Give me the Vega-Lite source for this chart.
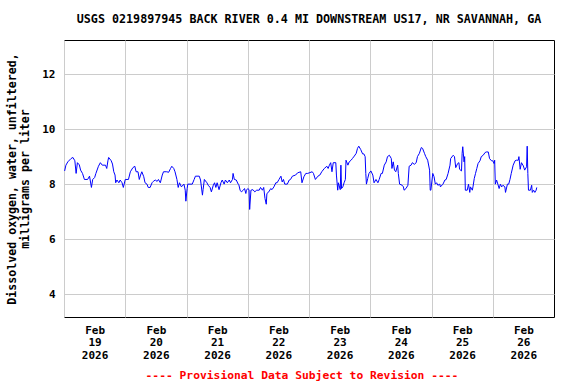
{
  "$schema": "https://vega.github.io/schema/vega-lite/v6.json",
  "autosize": "none",
  "width": 490,
  "height": 277,
  "padding": {"left": 64, "top": 40, "right": 22, "bottom": 67},
  "background": "white",
  "config": {
    "view": {"stroke": "#000000", "strokeWidth": 1},
    "font": "DejaVu Sans Mono",
    "axis": {"domain": false, "ticks": false, "gridColor": "#cccccc", "gridWidth": 1, "labelFont": "DejaVu Sans Mono", "labelFontWeight": "bold", "labelColor": "#000", "titleFont": "DejaVu Sans Mono", "titleFontWeight": "bold"}
  },
  "title": {"text": "USGS 0219897945 BACK RIVER 0.4 MI DOWNSTREAM US17, NR SAVANNAH, GA", "font": "DejaVu Sans Mono", "fontSize": 11.7, "fontWeight": "bold", "anchor": "middle", "offset": 14, "color": "#000"},
  "data": {"values": [
    {"t": "2026-02-19 00:15", "v": 8.48}, {"t": "2026-02-19 00:45", "v": 8.69}, {"t": "2026-02-19 01:30", "v": 8.81}, {"t": "2026-02-19 02:45", "v": 8.93}, {"t": "2026-02-19 03:30", "v": 8.97}, {"t": "2026-02-19 04:15", "v": 8.85}, {"t": "2026-02-19 04:45", "v": 8.39}, {"t": "2026-02-19 05:15", "v": 8.78}, {"t": "2026-02-19 06:00", "v": 8.7}, {"t": "2026-02-19 06:30", "v": 8.51}, {"t": "2026-02-19 07:15", "v": 8.39}, {"t": "2026-02-19 08:00", "v": 8.17}, {"t": "2026-02-19 09:15", "v": 8.17}, {"t": "2026-02-19 10:00", "v": 8.29}, {"t": "2026-02-19 10:45", "v": 7.88}, {"t": "2026-02-19 11:15", "v": 8.17}, {"t": "2026-02-19 12:00", "v": 8.24}, {"t": "2026-02-19 12:30", "v": 8.39}, {"t": "2026-02-19 13:30", "v": 8.65}, {"t": "2026-02-19 14:15", "v": 8.78}, {"t": "2026-02-19 15:00", "v": 8.69}, {"t": "2026-02-19 16:15", "v": 8.69}, {"t": "2026-02-19 16:45", "v": 8.57}, {"t": "2026-02-19 17:15", "v": 8.87}, {"t": "2026-02-19 17:30", "v": 8.97}, {"t": "2026-02-19 18:30", "v": 8.85}, {"t": "2026-02-19 19:00", "v": 8.73}, {"t": "2026-02-19 19:30", "v": 8.45}, {"t": "2026-02-19 20:00", "v": 8.33}, {"t": "2026-02-19 20:15", "v": 8.05}, {"t": "2026-02-19 20:45", "v": 8.15}, {"t": "2026-02-19 21:30", "v": 8.05}, {"t": "2026-02-19 22:00", "v": 8.15}, {"t": "2026-02-19 22:45", "v": 8.05}, {"t": "2026-02-19 23:15", "v": 7.88}, {"t": "2026-02-20 00:00", "v": 8.17},
    {"t": "2026-02-20 01:15", "v": 8.17}, {"t": "2026-02-20 02:00", "v": 8.45}, {"t": "2026-02-20 03:00", "v": 8.6}, {"t": "2026-02-20 03:45", "v": 8.65}, {"t": "2026-02-20 04:15", "v": 8.45}, {"t": "2026-02-20 05:00", "v": 8.45}, {"t": "2026-02-20 05:30", "v": 8.17}, {"t": "2026-02-20 06:00", "v": 8.33}, {"t": "2026-02-20 06:30", "v": 8.45}, {"t": "2026-02-20 07:15", "v": 8.27}, {"t": "2026-02-20 07:45", "v": 8.05}, {"t": "2026-02-20 08:30", "v": 8.0}, {"t": "2026-02-20 09:00", "v": 7.88}, {"t": "2026-02-20 09:45", "v": 7.88}, {"t": "2026-02-20 10:30", "v": 8.05}, {"t": "2026-02-20 11:00", "v": 8.1}, {"t": "2026-02-20 11:45", "v": 8.15}, {"t": "2026-02-20 12:30", "v": 8.1}, {"t": "2026-02-20 13:00", "v": 8.17}, {"t": "2026-02-20 13:45", "v": 8.05}, {"t": "2026-02-20 14:30", "v": 8.33}, {"t": "2026-02-20 15:00", "v": 8.45}, {"t": "2026-02-20 16:15", "v": 8.45}, {"t": "2026-02-20 17:00", "v": 8.43}, {"t": "2026-02-20 17:45", "v": 8.57}, {"t": "2026-02-20 18:15", "v": 8.65}, {"t": "2026-02-20 19:00", "v": 8.57}, {"t": "2026-02-20 19:30", "v": 8.45}, {"t": "2026-02-20 20:15", "v": 8.17}, {"t": "2026-02-20 20:45", "v": 7.88}, {"t": "2026-02-20 21:15", "v": 8.05}, {"t": "2026-02-20 22:00", "v": 7.9}, {"t": "2026-02-20 23:00", "v": 8.0}, {"t": "2026-02-20 23:30", "v": 7.78}, {"t": "2026-02-20 23:45", "v": 7.38},
    {"t": "2026-02-21 00:15", "v": 7.84}, {"t": "2026-02-21 00:30", "v": 8.0}, {"t": "2026-02-21 02:15", "v": 8.0}, {"t": "2026-02-21 03:00", "v": 8.17}, {"t": "2026-02-21 03:30", "v": 8.29}, {"t": "2026-02-21 05:00", "v": 8.29}, {"t": "2026-02-21 05:30", "v": 8.15}, {"t": "2026-02-21 06:15", "v": 7.6}, {"t": "2026-02-21 06:30", "v": 7.8}, {"t": "2026-02-21 07:00", "v": 8.17}, {"t": "2026-02-21 08:00", "v": 8.05}, {"t": "2026-02-21 08:30", "v": 7.96}, {"t": "2026-02-21 09:15", "v": 7.88}, {"t": "2026-02-21 09:45", "v": 7.72}, {"t": "2026-02-21 10:30", "v": 7.96}, {"t": "2026-02-21 11:00", "v": 8.05}, {"t": "2026-02-21 11:30", "v": 7.88}, {"t": "2026-02-21 12:00", "v": 8.05}, {"t": "2026-02-21 12:45", "v": 7.8}, {"t": "2026-02-21 13:30", "v": 8.05}, {"t": "2026-02-21 14:00", "v": 8.15}, {"t": "2026-02-21 14:45", "v": 8.0}, {"t": "2026-02-21 15:15", "v": 8.15}, {"t": "2026-02-21 16:00", "v": 8.05}, {"t": "2026-02-21 16:45", "v": 8.15}, {"t": "2026-02-21 17:15", "v": 8.05}, {"t": "2026-02-21 18:00", "v": 8.17}, {"t": "2026-02-21 18:15", "v": 8.39}, {"t": "2026-02-21 18:45", "v": 8.17}, {"t": "2026-02-21 19:30", "v": 8.15}, {"t": "2026-02-21 20:15", "v": 8.0}, {"t": "2026-02-21 20:30", "v": 7.98}, {"t": "2026-02-21 21:00", "v": 7.78}, {"t": "2026-02-21 21:30", "v": 7.72}, {"t": "2026-02-21 22:15", "v": 7.78}, {"t": "2026-02-21 22:45", "v": 7.84}, {"t": "2026-02-21 23:15", "v": 7.66}, {"t": "2026-02-21 23:30", "v": 7.78},
    {"t": "2026-02-22 00:00", "v": 7.84}, {"t": "2026-02-22 00:30", "v": 7.8}, {"t": "2026-02-22 00:45", "v": 7.08}, {"t": "2026-02-22 01:15", "v": 7.78}, {"t": "2026-02-22 02:00", "v": 7.8}, {"t": "2026-02-22 02:45", "v": 7.72}, {"t": "2026-02-22 03:30", "v": 7.78}, {"t": "2026-02-22 04:30", "v": 7.78}, {"t": "2026-02-22 05:00", "v": 7.88}, {"t": "2026-02-22 05:45", "v": 7.78}, {"t": "2026-02-22 06:15", "v": 7.88}, {"t": "2026-02-22 06:45", "v": 7.48}, {"t": "2026-02-22 07:15", "v": 7.27}, {"t": "2026-02-22 07:30", "v": 7.66}, {"t": "2026-02-22 08:15", "v": 7.72}, {"t": "2026-02-22 09:00", "v": 7.84}, {"t": "2026-02-22 09:30", "v": 7.8}, {"t": "2026-02-22 10:15", "v": 7.9}, {"t": "2026-02-22 11:00", "v": 8.05}, {"t": "2026-02-22 11:30", "v": 8.05}, {"t": "2026-02-22 12:15", "v": 8.17}, {"t": "2026-02-22 13:00", "v": 8.29}, {"t": "2026-02-22 13:30", "v": 8.08}, {"t": "2026-02-22 14:00", "v": 8.17}, {"t": "2026-02-22 14:30", "v": 8.0}, {"t": "2026-02-22 15:30", "v": 8.0}, {"t": "2026-02-22 16:15", "v": 8.15}, {"t": "2026-02-22 16:45", "v": 8.17}, {"t": "2026-02-22 17:30", "v": 8.29}, {"t": "2026-02-22 18:45", "v": 8.33}, {"t": "2026-02-22 19:30", "v": 8.41}, {"t": "2026-02-22 20:45", "v": 8.45}, {"t": "2026-02-22 21:15", "v": 8.05}, {"t": "2026-02-22 22:00", "v": 8.27}, {"t": "2026-02-22 22:45", "v": 8.39}, {"t": "2026-02-22 23:30", "v": 8.39},
    {"t": "2026-02-23 01:15", "v": 8.45}, {"t": "2026-02-23 01:45", "v": 8.39}, {"t": "2026-02-23 02:30", "v": 8.17}, {"t": "2026-02-23 03:30", "v": 8.29}, {"t": "2026-02-23 04:15", "v": 8.33}, {"t": "2026-02-23 05:00", "v": 8.45}, {"t": "2026-02-23 06:00", "v": 8.57}, {"t": "2026-02-23 07:00", "v": 8.65}, {"t": "2026-02-23 07:30", "v": 8.57}, {"t": "2026-02-23 08:00", "v": 8.69}, {"t": "2026-02-23 08:30", "v": 8.78}, {"t": "2026-02-23 09:00", "v": 8.45}, {"t": "2026-02-23 09:30", "v": 8.78}, {"t": "2026-02-23 10:30", "v": 8.78}, {"t": "2026-02-23 10:45", "v": 8.33}, {"t": "2026-02-23 11:15", "v": 7.78}, {"t": "2026-02-23 11:30", "v": 8.05}, {"t": "2026-02-23 12:15", "v": 7.8}, {"t": "2026-02-23 12:30", "v": 8.69}, {"t": "2026-02-23 12:45", "v": 7.84}, {"t": "2026-02-23 13:15", "v": 7.9}, {"t": "2026-02-23 13:45", "v": 8.05}, {"t": "2026-02-23 14:15", "v": 8.17}, {"t": "2026-02-23 14:30", "v": 8.87}, {"t": "2026-02-23 15:15", "v": 8.69}, {"t": "2026-02-23 15:45", "v": 8.81}, {"t": "2026-02-23 16:30", "v": 8.87}, {"t": "2026-02-23 17:00", "v": 8.93}, {"t": "2026-02-23 17:45", "v": 9.02}, {"t": "2026-02-23 18:30", "v": 9.12}, {"t": "2026-02-23 19:00", "v": 9.3}, {"t": "2026-02-23 19:30", "v": 9.38}, {"t": "2026-02-23 20:15", "v": 9.26}, {"t": "2026-02-23 21:00", "v": 9.1}, {"t": "2026-02-23 21:30", "v": 9.1}, {"t": "2026-02-23 22:00", "v": 9.0}, {"t": "2026-02-23 22:15", "v": 8.39}, {"t": "2026-02-23 22:30", "v": 8.0}, {"t": "2026-02-23 23:00", "v": 8.2}, {"t": "2026-02-23 23:30", "v": 8.39},
    {"t": "2026-02-24 00:15", "v": 8.48}, {"t": "2026-02-24 01:00", "v": 8.33}, {"t": "2026-02-24 01:30", "v": 8.05}, {"t": "2026-02-24 02:15", "v": 8.17}, {"t": "2026-02-24 03:00", "v": 8.05}, {"t": "2026-02-24 03:30", "v": 8.17}, {"t": "2026-02-24 04:15", "v": 8.39}, {"t": "2026-02-24 04:45", "v": 8.39}, {"t": "2026-02-24 05:30", "v": 8.69}, {"t": "2026-02-24 06:15", "v": 8.81}, {"t": "2026-02-24 06:45", "v": 9.0}, {"t": "2026-02-24 07:30", "v": 9.05}, {"t": "2026-02-24 08:15", "v": 8.93}, {"t": "2026-02-24 08:30", "v": 8.57}, {"t": "2026-02-24 09:00", "v": 8.81}, {"t": "2026-02-24 09:30", "v": 8.51}, {"t": "2026-02-24 10:00", "v": 8.45}, {"t": "2026-02-24 10:45", "v": 8.69}, {"t": "2026-02-24 11:00", "v": 8.39}, {"t": "2026-02-24 11:30", "v": 8.0}, {"t": "2026-02-24 12:30", "v": 7.96}, {"t": "2026-02-24 13:00", "v": 7.9}, {"t": "2026-02-24 13:15", "v": 7.78}, {"t": "2026-02-24 14:00", "v": 7.84}, {"t": "2026-02-24 14:45", "v": 7.96}, {"t": "2026-02-24 15:15", "v": 8.65}, {"t": "2026-02-24 16:00", "v": 8.69}, {"t": "2026-02-24 16:30", "v": 8.78}, {"t": "2026-02-24 17:15", "v": 8.72}, {"t": "2026-02-24 18:00", "v": 8.78}, {"t": "2026-02-24 18:30", "v": 9.0}, {"t": "2026-02-24 19:15", "v": 9.12}, {"t": "2026-02-24 20:00", "v": 9.33}, {"t": "2026-02-24 20:30", "v": 9.3}, {"t": "2026-02-24 21:15", "v": 9.12}, {"t": "2026-02-24 21:45", "v": 9.0}, {"t": "2026-02-24 22:30", "v": 8.87}, {"t": "2026-02-24 23:15", "v": 8.51}, {"t": "2026-02-24 23:30", "v": 7.78}, {"t": "2026-02-24 23:45", "v": 7.78},
    {"t": "2026-02-25 00:30", "v": 8.39}, {"t": "2026-02-25 01:00", "v": 8.27}, {"t": "2026-02-25 01:30", "v": 8.0}, {"t": "2026-02-25 02:00", "v": 8.05}, {"t": "2026-02-25 02:30", "v": 7.96}, {"t": "2026-02-25 03:15", "v": 8.0}, {"t": "2026-02-25 03:30", "v": 7.9}, {"t": "2026-02-25 04:30", "v": 8.0}, {"t": "2026-02-25 05:15", "v": 8.15}, {"t": "2026-02-25 05:45", "v": 8.17}, {"t": "2026-02-25 06:30", "v": 8.39}, {"t": "2026-02-25 07:15", "v": 8.69}, {"t": "2026-02-25 07:30", "v": 8.93}, {"t": "2026-02-25 08:30", "v": 9.05}, {"t": "2026-02-25 09:00", "v": 9.0}, {"t": "2026-02-25 09:30", "v": 8.6}, {"t": "2026-02-25 10:15", "v": 8.75}, {"t": "2026-02-25 10:45", "v": 8.78}, {"t": "2026-02-25 11:00", "v": 8.54}, {"t": "2026-02-25 11:45", "v": 8.48}, {"t": "2026-02-25 12:00", "v": 9.12}, {"t": "2026-02-25 12:15", "v": 9.36}, {"t": "2026-02-25 12:45", "v": 8.81}, {"t": "2026-02-25 13:00", "v": 9.0}, {"t": "2026-02-25 13:15", "v": 7.78}, {"t": "2026-02-25 14:00", "v": 7.78}, {"t": "2026-02-25 14:30", "v": 8.0}, {"t": "2026-02-25 15:00", "v": 7.7}, {"t": "2026-02-25 15:15", "v": 7.9}, {"t": "2026-02-25 16:00", "v": 7.78}, {"t": "2026-02-25 16:15", "v": 7.9}, {"t": "2026-02-25 16:45", "v": 8.2}, {"t": "2026-02-25 17:15", "v": 8.39}, {"t": "2026-02-25 17:45", "v": 8.57}, {"t": "2026-02-25 18:15", "v": 8.75}, {"t": "2026-02-25 19:00", "v": 8.85}, {"t": "2026-02-25 19:30", "v": 9.0}, {"t": "2026-02-25 20:15", "v": 9.05}, {"t": "2026-02-25 21:00", "v": 9.15}, {"t": "2026-02-25 21:30", "v": 9.17}, {"t": "2026-02-25 22:15", "v": 9.17}, {"t": "2026-02-25 22:45", "v": 8.93}, {"t": "2026-02-25 23:30", "v": 8.85},
    {"t": "2026-02-26 00:00", "v": 8.85}, {"t": "2026-02-26 00:30", "v": 8.75}, {"t": "2026-02-26 00:45", "v": 8.87}, {"t": "2026-02-26 01:00", "v": 8.0}, {"t": "2026-02-26 01:30", "v": 8.15}, {"t": "2026-02-26 02:00", "v": 8.0}, {"t": "2026-02-26 02:30", "v": 7.84}, {"t": "2026-02-26 03:00", "v": 8.0}, {"t": "2026-02-26 03:30", "v": 7.9}, {"t": "2026-02-26 04:00", "v": 7.96}, {"t": "2026-02-26 04:45", "v": 7.9}, {"t": "2026-02-26 05:00", "v": 7.7}, {"t": "2026-02-26 05:45", "v": 8.0}, {"t": "2026-02-26 06:15", "v": 8.0}, {"t": "2026-02-26 06:45", "v": 8.17}, {"t": "2026-02-26 07:15", "v": 8.39}, {"t": "2026-02-26 08:00", "v": 8.69}, {"t": "2026-02-26 08:45", "v": 8.85}, {"t": "2026-02-26 09:15", "v": 8.87}, {"t": "2026-02-26 10:00", "v": 8.87}, {"t": "2026-02-26 10:15", "v": 9.0}, {"t": "2026-02-26 10:45", "v": 8.54}, {"t": "2026-02-26 11:15", "v": 8.78}, {"t": "2026-02-26 12:00", "v": 8.66}, {"t": "2026-02-26 12:30", "v": 8.51}, {"t": "2026-02-26 13:15", "v": 8.63}, {"t": "2026-02-26 13:30", "v": 9.38}, {"t": "2026-02-26 13:45", "v": 8.39}, {"t": "2026-02-26 14:00", "v": 7.78}, {"t": "2026-02-26 14:45", "v": 7.78}, {"t": "2026-02-26 15:15", "v": 7.96}, {"t": "2026-02-26 15:30", "v": 7.7}, {"t": "2026-02-26 16:00", "v": 7.78}, {"t": "2026-02-26 16:30", "v": 7.7}, {"t": "2026-02-26 17:00", "v": 7.78}, {"t": "2026-02-26 17:15", "v": 7.88}
  ]},
  "mark": {"type": "line", "color": "#0000ff", "strokeWidth": 1, "interpolate": "linear"},
  "encoding": {
    "x": {
      "field": "t", "type": "temporal",
      "scale": {"domain": [{"year": 2026, "month": "feb", "date": 19}, {"year": 2026, "month": "feb", "date": 27}]},
      "axis": {
        "values": [{"year": 2026, "month": "feb", "date": 19}, {"year": 2026, "month": "feb", "date": 20}, {"year": 2026, "month": "feb", "date": 21}, {"year": 2026, "month": "feb", "date": 22}, {"year": 2026, "month": "feb", "date": 23}, {"year": 2026, "month": "feb", "date": 24}, {"year": 2026, "month": "feb", "date": 25}, {"year": 2026, "month": "feb", "date": 26}],
        "grid": true,
        "labelExpr": "[timeFormat(datum.value, '%b'), timeFormat(datum.value, '%d'), timeFormat(datum.value, '%Y')]",
        "labelOffset": 30.6,
        "labelFontSize": 11,
        "labelLineHeight": 12.5,
        "labelPadding": 7,
        "labelBaseline": "top",
        "labelAlign": "center",
        "title": "---- Provisional Data Subject to Revision ----",
        "titleColor": "#ff0000",
        "titleFontSize": 11.3,
        "titleX": 237.5,
        "titleY": 58,
        "titleBaseline": "middle",
        "titleAlign": "center"
      }
    },
    "y": {
      "field": "v", "type": "quantitative",
      "scale": {"domain": [3.17, 13.24], "nice": false, "zero": false},
      "axis": {
        "values": [4, 6, 8, 10, 12],
        "grid": true,
        "labelFontSize": 11,
        "labelPadding": 9,
        "title": ["Dissolved oxygen, water, unfiltered,", "milligrams per liter"],
        "titleFontSize": 11.6,
        "titleLineHeight": 13,
        "titleAngle": -90,
        "titleX": -51.5,
        "titleY": 138.5,
        "titleBaseline": "middle",
        "titleAlign": "center"
      }
    }
  }
}
